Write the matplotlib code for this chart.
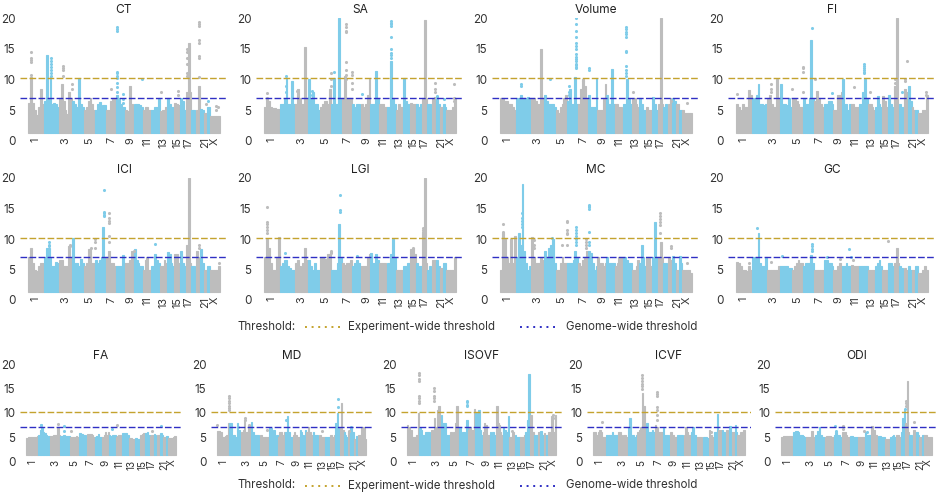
import matplotlib
matplotlib.use("Agg")
import matplotlib.pyplot as plt
from matplotlib.lines import Line2D

plt.rcParams['font.family'] = ['Inter', 'DejaVu Sans']

W, H = 940, 495
GRAY = '#BDBDBD'
BLUE = '#7FCCE9'
EXP_COLOR = '#C4A32E'
GEN_COLOR = '#2F2FC4'

chrom_mb = [249, 243, 198, 191, 181, 171, 159, 146, 141, 135, 135, 133, 115, 107, 102, 90, 81, 78, 59, 63, 48, 51, 155]
chrom_ticks = ['1', '3', '5', '7', '9', '11', '13', '15', '17', '21', 'X']
chrom_tick_idx = [1, 3, 5, 7, 9, 11, 13, 15, 17, 21, 23]
experiment_thr = 10.2
genome_thr = 7.0
base_level = 1.3

# envelope height per chromosome, bins run along each chromosome
ct_heights = [[6.1,10.4,6.2,5.0,4.2,5.5,8.4,6.0],[6.5,14,7,10.5,6,6.2,6,5.5],[7,9.3,6.5,5,4.4,8,7],[6.5,6,5.5,10.2,6,5.5],[5,5.5,6.5,7,6,5],[5,6,6.3,5.5,5.8,5.8],[5,5,6.5,7,7],[7.5,7,6,5.5,5.5],[5,4.8,9,6,5],[6,6,6,5.8,5.5],[5,5.5,5.5,5,5],[5,5.5,5.5,7],[4.8,5,5,5.5],[7,6,5.5,5.5],[6.2,6,5.8],[7,6.5,5],[8,16,8],[5,5,4.8],[5,9],[5.2,5],[4.5,4.5],[5.5,5.5],[4,4,4,4,4]]
sa_heights = [[5.5,7,6.5,5.5,5.3,5.3,5.2,5.2],[6,6,7,10.3,6,6,9.7,6],[6,8.5,7,6,6,15.3,7],[10,7,8,6,6,5],[5.5,6,6.5,6.5,6,8.5],[6,10.2,6,6,20,7],[7,10.5,7,7,7],[6,5.5,6,6,5.5],[6,5.5,6,7.5,10],[6,6,6,11.4,7],[6,6,6,5.5,5.5],[5.5,13,7,6],[5,6,5.5,5.5],[10.3,6.5,6,6],[6.2,6,6],[6,5.5,6],[7,19.8,7],[6,6,5],[7,7.2],[7.2,6],[5.5,5.5],[6,5.5],[5,5,5,5.5,7]]
vol_heights = [[7,7,6.5,6.5,6,6,5.5,5],[7,7,7.5,7,7,7,7.2,7],[7,7,6.5,6,6,15,7],[7.5,6.5,6,6,6,5.5],[5,4.5,5.5,6,7,7.5],[6.5,8.5,6,6,10.4,6],[6,8.5,10,9,7],[7.5,5.5,5.5,5.5,10.2],[5,5,5,7,9.3],[7.5,6,6,11.7,6],[6,6,5.5,5.5,5],[6,10,7,6],[7,7,6,5.5],[7,6,5,5],[5.5,5,5],[7.2,6,5],[6,20,6],[5.5,6,5],[6,7],[7,6.5],[6,6],[5,5],[5,4.5,4.5,4.5,4.5]]
fi_heights = [[6,5.5,5,6,5.5,5.5,8.3,7.5],[7,7,7.5,9.2,6,6,5.8,6],[7,7.5,6,5.5,5.5,10,7],[9.2,6,6,5.8,7,5.5],[7,7,6.5,6,5.5,5.5],[7,6,6,7,16.5,7],[6.5,8.2,7,6,5.5],[6,6,6.5,6.5,6],[5,5,7.5,7.5,8],[10,6,6,5,6],[6,6,5.5,5.5,5.5],[6,8,10,7],[6,6,5.5,5],[5.5,7.3,6,5.5],[7.3,6.5,5.5],[7.5,6,5.5],[9,20,6],[6,5.5,5.5],[8.5,8],[9,6.5],[5.5,5],[5,5],[4.5,4.5,5,5,7.5]]
ici_heights = [[7,8.5,6,5,4.8,5.5,6,6],[7,8.5,8.5,7,5.5,5.5,6.3,6],[6.5,6.5,5.5,5.5,5.5,8.8,7],[10.2,6,6,5.5,6.8,6],[5.5,6,8.3,8.5,6,6],[6.5,6,6.5,7,12,7],[7,8,6,6,5.5],[5.5,5.5,5.5,7.3,6],[6,6,6.5,8,6.5],[8.3,6.5,6,5.5,5.5],[5,6.5,7,5,5],[5.5,7.5,6.5,6],[5.5,5.5,6.5,6],[7.8,7.5,6,5.5],[7.6,7.5,6],[8,6,5.5],[9,20,6],[5.5,5.5,5],[8,7],[8.3,6],[5,5],[5.5,5.5],[5,5,5,5,5.5]]
lgi_heights = [[7,10,8.6,6,5,5,7,10.4],[5.5,6,6.5,6.5,5.5,5.2,5,5],[6,6.5,5.5,5,6,8.5,6.5],[6.5,5.5,5,6,5,5],[7,7,6.8,6.5,7.5,7.5],[5,5,5,6,12.5,7],[6,5.8,6,6,6.5],[5.5,6,6.5,6,5.5],[5.5,5.5,5.5,7,7.5],[7.7,6,6,7.5,6.5],[6,6,6,6,5.5],[6,7.5,10,7],[5,5,5,5],[5.5,5.5,6,6],[8.3,8.5,7.5],[6,5.5,5.5],[11,20,6],[5,5.5,5],[6.5,6.5],[6.5,5.5],[5.3,5.3],[6,6],[5,5,5,5,7]]
mc_heights = [[5,11,10,7,6,10,6,10.5],[7,11,9,19,8,6,5,5.5],[10.4,7,6,6,6,7,6.5],[8,7,8.5,9,10,6],[5,5,6,7,6,6],[6,6,6,6.5,8,7],[6,5.5,6.5,7,8],[8,7.7,6,5,5.5],[7,6,6,5.5,6],[7,6,6,6,6],[5.5,6,7,7,6],[7,6.5,6,6],[5,5,5.5,6.5],[6,9,7,5.5],[7,7,5.5],[7,12.8,7],[7,9.5,7],[6,6,5],[7,6.5],[7.2,6],[5,5],[7.2,6],[5,5,5,5,4.5]]
gc_heights = [[6.3,6,5.5,5,5,4.8,5.5,5],[7,7,7,11,6,5.5,5.5,7],[5,5,5,5,5,5,5.5],[5.5,5.5,5.5,5.5,5.3,5.3],[5,5.5,6,6.5,6,6],[5.5,6,6,6,7.3,6],[5,5,5,5,5],[6.5,6.5,6,6,5.5],[5,5,5.5,6,5.5],[5.5,5.5,6,5.5,5.5],[5.8,5.5,5.5,5.5,5.5],[5.5,5.5,5.5,5.5],[5,5,5,5],[5.5,6,6.5,5.5],[5,5,5],[6,6,5.5],[6,8.5,6],[5.5,5.3,5],[5.3,5],[5.5,5],[5,5],[5.5,5.5],[4.5,4.5,5,5.5,5]]
fa_heights = [[4.8,5,5,5,5,5,5,5.2],[5.5,6.5,7,6,5.8,5.5,5.3,5.2],[5.2,5.3,5.5,5.5,5.5,7,5.5],[5.2,5.2,5.5,5.2,5.3,5.3],[5,5,5,5,5.2,5],[5.8,5.8,5.6,5.5,5.5,5],[5.7,5.7,5.7,5.5,5],[5,5.2,5.7,5,5],[5,5.5,6,5.5,6],[5.5,5.3,5.5,5.5,5.5],[5,5.3,5.5,5.5,5],[5.8,5.8,5.8,5.5],[4.8,4.8,4.5,4.5],[4.8,4.8,4.7,4.5],[5.5,5.7,5.8],[5.8,6,5.5],[5.3,5.5,5.5],[5.7,5.5,5],[5.5,5.5],[5.8,5.5],[5,5],[5.3,5.3],[4.8,4.8,4.8,5,5.3]]
md_heights = [[6.2,6.2,6,5,5,5.3,5.5,8],[8,8,5.5,5.5,5,8,6.5,5.5],[6,6.5,8.5,6,6,7.5,7.2],[8.2,6,5.5,5.5,5.5,5],[5.5,5,5,5,5,5],[7,6.8,6,6.5,5,5.5],[5,6,6,5.5,6],[6,9.3,6,5,5],[5.5,6,5.5,5,5],[6.5,6,5.5,5,6.5],[6,7,6,6,5.5],[6,5.5,5.5,5],[5.5,5,5,5],[5,5,5,5],[5.5,5,5.5],[8,10,7],[7,12,6.5],[6,5.5,5],[6,6],[7,6],[4.5,4.5],[5.3,5.3],[5.5,5.5,7,7,4.5]]
isovf_heights = [[7.5,7,6.5,5,5,5,5.5,10],[6.8,6.5,5.5,5.5,6,6,6,5.5],[6.5,6,9,7,10.5,11.5,9],[9.5,8,8,5.5,5.5,5.5],[6,5.5,6,8,11.5,7],[7,5.5,6,6,5,8.5],[6.5,7,6.5,6.5,10.8],[10,8.5,10.5,6.5,5.5],[6,8,7.5,5.5,5.5],[6,5.5,6,5.5,5.5],[11.5,8,7.5,6,5.5],[7,6.5,6,9.3],[5,5,6,4.5],[5.5,5,5,5],[5,5,5.5],[6,8.5,18],[9.5,9.5,6],[5.5,5.5,5.5],[6,6],[6.3,5.5],[5.8,5.5],[5.5,5.5],[6,6,9.3,6,9.5]]
icvf_heights = [[6,6,5.5,6,6.5,6,5,5],[5.5,5.5,5.5,5.5,6,5.5,5.5,5.5],[6,6,5.5,5,5.5,5.5,5],[7,9,5.5,5.5,5,5.5],[6,6.5,7,14,11.5,7],[7.8,6,6,6,6.5,6],[7.5,7,6,6,6],[7,5.5,5.5,5.5,5],[6,5.5,5.5,5,5],[5.5,5.5,5.5,5.5,5],[5.5,7,6,5.5,5.5],[6,7,5.5,5],[5,5,5,4.8],[5,5,5,4.8],[6.5,5.5,5],[6,6,9.8],[6.5,6.5,6.5],[6.5,6,5],[6.5,6],[7.3,6],[6,6],[7.5,6],[5.5,5.5,6,6,6.5]]
odi_heights = [[5,5.3,5.3,5.3,5.3,5.3,5.3,5],[6,6.3,6.3,6,5.5,5.5,5.3,5],[5,5,5,5,6.3,5,5],[5.5,6.3,7,5.5,5,5],[5,5.2,5.3,5.3,5,5],[5.5,6,5.5,5.5,5,5],[6,6,5.5,5,5],[5.3,5.2,5,5,5],[5,5,5,5,5],[6,5.5,5.5,5.5,5.5],[7.2,6.5,6.5,5.5,5],[5.3,5.3,5,5],[4.5,4.5,4.5,4.5],[5,5.3,5.5,5],[5.5,5.5,5],[6,9,10.5],[8,16.5,6],[5.5,5.5,5],[6.5,6],[6,5.5],[5,5],[5.5,5.5],[5.5,5.5,5,5,5]]

# separate hits above the envelope: (chromosome, position in Mb, values)
ct_dots = [(1,45,[10.8,12.8,13.2,13.5,14.5]),(2,110,[10.5,11,11.5,12,12.5,13,13.5]),(3,55,[10.5,11.5,11.8,12.2]),(3,195,[9.2,8.5]),(4,115,[8]),(7,74,[8.5]),(8,12,[18,18.3,18.5,10.2,10.6,11,11.3,9.5,8.7,8]),(8,110,[7.7,6.8,6.2]),(10,125,[10]),(13,10,[7.9]),(15,60,[8.2,7.5]),(17,20,[15,14.5,13.5,12.5,11,10.5]),(19,45,[19.4,19.1,18.8,16.5,16,13.9,13.5,10.4]),(22,20,[6.5]),(21,30,[6]),(23,120,[5.5]),(23,90,[5.7,5])]
sa_dots = [(1,40,[7.8,7,6.7]),(2,100,[10.5,9,8]),(3,30,[8.2]),(4,60,[8.2,7.5]),(5,175,[11,10,9]),(6,40,[11.3]),(7,60,[19,18.5,18,17.7,12.9,11.5,10.8,10]),(7,155,[11.3,10.7,9.5,8.5]),(8,150,[7.7]),(12,60,[19.6,19.3,19,18.7,17,15,14.3,14,13.5]),(19,45,[9.4,8.4,8]),(20,10,[7.3]),(22,20,[6.8]),(23,130,[9.3,7,6.5])]
vol_dots = [(2,84,[9.3,9]),(4,100,[10]),(6,30,[9,8,7.5]),(6,130,[11.8,12,12.3,12.6,13,13.3,13.6,14.2,15,15.5,16,17,18,19,20]),(8,15,[11.5,11.8]),(7,70,[9.8]),(12,45,[18.5,18.2,17.8,17.4,17,14.7,14.5,12.2,11.5,11,10.5]),(13,10,[8]),(19,50,[6.5]),(23,70,[6.2])]
fi_dots = [(1,20,[7.7]),(3,60,[9.2,8.5,8]),(5,10,[8.4]),(5,178,[12,11.8,11.2,7.9]),(6,130,[18.4]),(7,20,[10]),(8,130,[7.8]),(11,50,[8.7]),(12,70,[12.5,12.2,11.8,11.5,11.2,11]),(13,30,[7.9]),(19,10,[10,9.8]),(19,40,[13]),(17,10,[10,9.5,8.5]),(23,130,[8,7.5]),(18,50,[8])]
ici_dots = [(2,85,[9.5,9,8.8]),(5,175,[10,9.5,8.5]),(6,130,[18,14.5,14.2,14,13.8]),(7,50,[14.3,13.5,13,12.7,10.5,9.5]),(8,110,[7]),(11,60,[6.8]),(12,60,[9.2]),(19,40,[9,8.5]),(23,140,[6]),(3,170,[9,8.8]),(5,120,[8.5]),(9,130,[8])]
lgi_dots = [(1,55,[15.2,12.8,12.4,12,11.5,11]),(2,90,[7.7]),(5,170,[7.8,8,7.7]),(6,130,[17.2,14.7,14.5]),(8,80,[7.2]),(15,50,[8.5]),(17,15,[11.8,11.5,11.2])]
mc_dots = [(1,50,[12.4,11.2]),(2,100,[14.2,13.5,13,12.5,12]),(3,40,[9.8,9,8.5]),(5,178,[13,12.8,11.5,11,10.8,9]),(5,100,[9]),(6,130,[12,11.5,11,10.5,10,9.5,9]),(7,130,[10,9.5,9,8.5]),(8,15,[15.6,15.4,15.2,15,11.2,9.5,9]),(4,130,[10.2]),(17,30,[14.3,13.8,13.3,12.8,12.3,11]),(19,45,[8.8,8.5]),(23,70,[6])]
gc_dots = [(2,90,[11.8]),(1,200,[6]),(3,60,[6.3]),(4,30,[7.2]),(6,130,[9.2,8.8,8.3,8]),(8,40,[7]),(9,100,[6.8]),(10,110,[8.4]),(10,130,[7]),(11,30,[6.5]),(15,100,[9.6])]
fa_dots = [(2,60,[7.5,7.4]),(3,150,[7.7]),(4,70,[7.3,6.3]),(5,20,[6.2]),(10,60,[6.7]),(11,30,[7.4]),(20,10,[7.3]),(17,60,[6.2])]
md_dots = [(1,240,[13.4,13,12.5,12,11.5,11,10.5]),(1,10,[7.5]),(3,80,[8.9,8.5]),(3,150,[7.5]),(8,8,[8.5]),(16,50,[12.9,11.2]),(13,50,[6.3]),(5,130,[6.5]),(2,170,[7,6.2]),(20,10,[7]),(19,30,[6.3])]
isovf_dots = [(1,240,[18.2,17.8,17,16.5,13.5,13,12.5,12]),(3,60,[15.2,14.5,13.5,13,12.5]),(6,165,[12.4,12.2,11.7,11.5]),(13,60,[6.3]),(23,90,[9.5,9])]
icvf_dots = [(1,170,[8.2]),(5,95,[17.8,17.2,16.5,16,15.5,15]),(7,40,[14.2,13.8,13.5,11.2,10.5,9.5,8.5]),(15,40,[6])]
odi_dots = [(17,10,[12.5,12,11.5]),(16,85,[10.8]),(7,10,[7.3,6.6]),(6,50,[6.2]),(19,20,[8.2]),(9,130,[6.2]),(10,50,[6]),(6,30,[7.2])]

titles = ['CT', 'SA', 'Volume', 'FI', 'ICI', 'LGI', 'MC', 'GC', 'FA', 'MD', 'ISOVF', 'ICVF', 'ODI']
all_heights = [ct_heights, sa_heights, vol_heights, fi_heights, ici_heights, lgi_heights, mc_heights, gc_heights,
               fa_heights, md_heights, isovf_heights, icvf_heights, odi_heights]
all_dots = [ct_dots, sa_dots, vol_dots, fi_dots, ici_dots, lgi_dots, mc_dots, gc_dots,
            fa_dots, md_dots, isovf_dots, icvf_dots, odi_dots]

# layout in pixels: left, right of the dashed lines, y of value 20, y of value 0
boxes = [(20, 228, 18.3, 140.7), (256, 464, 18.3, 140.7), (492, 700, 18.3, 140.7), (728, 936, 18.3, 140.7),
         (20, 228, 178, 300), (256, 464, 178, 300), (492, 700, 178, 300), (728, 936, 178, 300),
         (20, 182, 364.3, 461.3), (211, 372, 364.3, 461.3), (401, 562, 364.3, 461.3), (587, 751, 364.3, 461.3), (775, 938, 364.3, 461.3)]

total_mb = sum(chrom_mb)
starts = [sum(chrom_mb[:i]) for i in range(len(chrom_mb))]


def draw_panel(ax, heights, dots, title, small):
    for i, hs in enumerate(heights):
        color = BLUE if i % 2 == 1 and i < 22 else GRAY
        w = chrom_mb[i] / len(hs)
        xs = [starts[i] + w * (k + 0.5) for k in range(len(hs))]
        ax.bar(xs, [h - base_level for h in hs], bottom=base_level, width=w, color=color,
               edgecolor=color, linewidth=0.8, zorder=2 + i * 0.01)
    for chrom, mb, values in dots:
        color = BLUE if chrom % 2 == 0 and chrom < 23 else GRAY
        ax.scatter([starts[chrom - 1] + mb] * len(values), values, s=5, color=color, linewidth=0, zorder=3)
    ax.axhline(experiment_thr, color=EXP_COLOR, lw=1, linestyle=(0, (4.8, 1.7)), zorder=5)
    ax.axhline(genome_thr, color=GEN_COLOR, lw=1, linestyle=(0, (4.8, 1.7)), zorder=5)
    pad = total_mb * (8 / 192 if not small else 6 / 150)
    ax.set_xlim(-pad, total_mb + pad)
    ax.set_ylim(0, 20)
    ax.set_yticks([0, 5, 10, 15, 20])
    ax.set_xticks([starts[c - 1] + chrom_mb[c - 1] / 2 for c in chrom_tick_idx])
    ax.set_xticklabels(chrom_ticks, rotation=90, va='top', ha='center', fontsize=7.2 if small else 7.8, color='#333333')
    ax.tick_params(axis='x', length=0, pad=-2.4 if not small else -1.2)
    ax.tick_params(axis='y', length=0, pad=3.2, labelsize=8.4, labelcolor='#333333')
    for s in ax.spines.values():
        s.set_visible(False)
    ax.patch.set_alpha(0)
    ax.set_title(title, fontsize=8.6, color='#222222', pad=3.5)


fig = plt.figure(figsize=(W / 100, H / 100), dpi=100)
for n in range(13):
    left, right, top, bottom = boxes[n]
    ax = fig.add_axes([left / W, 1 - bottom / H, (right - left) / W, (bottom - top) / H])
    draw_panel(ax, all_heights[n], all_dots[n], titles[n], n >= 8)


def legend(y):
    fy = 1 - y / H
    fig.text(237 / W, fy, 'Threshold:', fontsize=8.3, color='#333333', va='center')
    fig.add_artist(Line2D([305 / W, 341 / W], [fy, fy], color=EXP_COLOR, lw=1.4, linestyle=(0, (1, 2.4))))
    fig.text(348 / W, fy, 'Experiment-wide threshold', fontsize=8.3, color='#333333', va='center')
    fig.add_artist(Line2D([520 / W, 557 / W], [fy, fy], color=GEN_COLOR, lw=1.4, linestyle=(0, (1, 2.4))))
    fig.text(566 / W, fy, 'Genome-wide threshold', fontsize=8.3, color='#333333', va='center')


legend(327)
legend(485.5)

fig.savefig('out.png', dpi=100)
